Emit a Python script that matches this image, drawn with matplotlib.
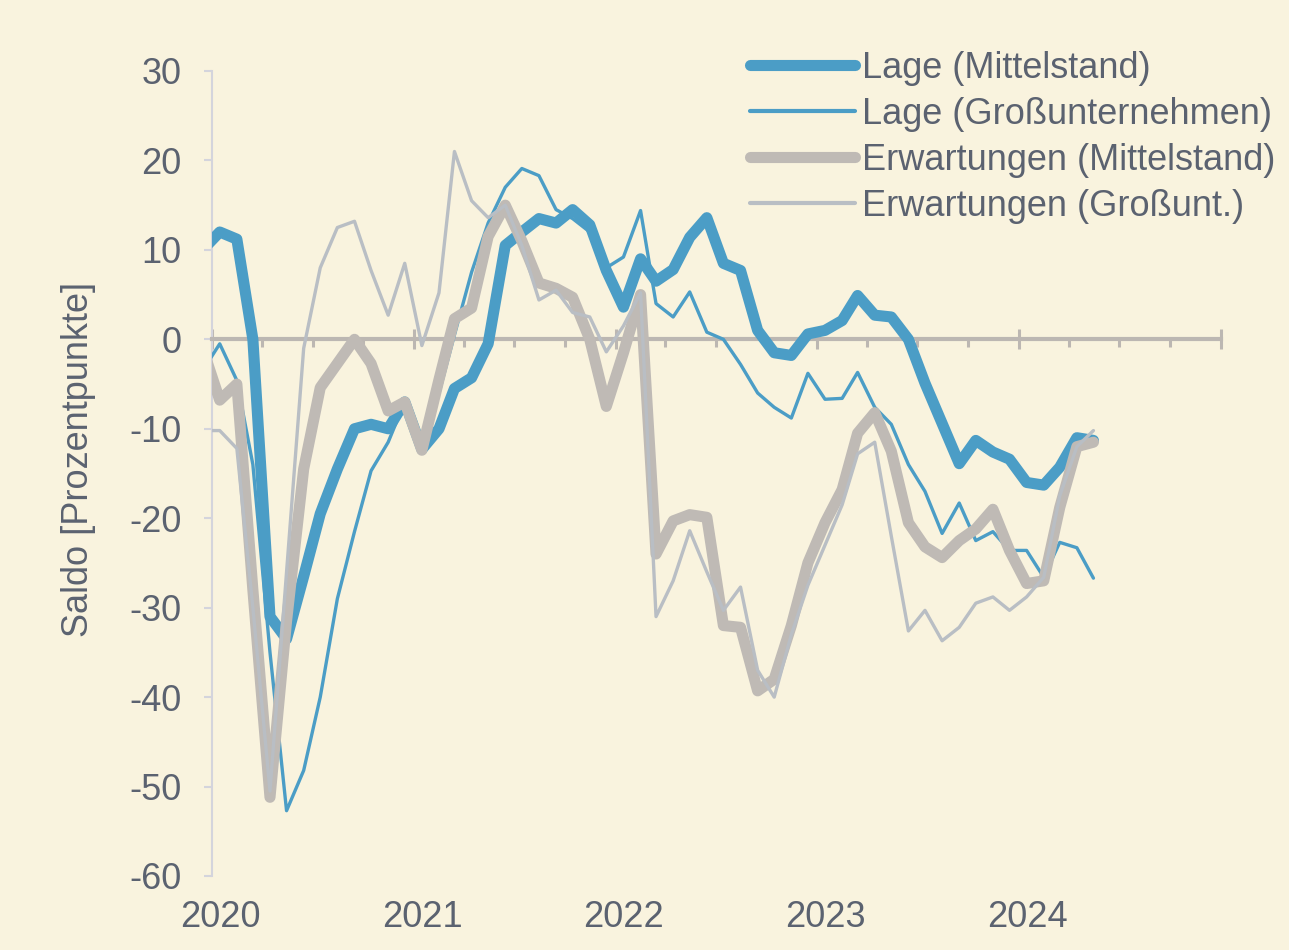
import matplotlib
matplotlib.use("Agg")
import matplotlib.pyplot as plt
import matplotlib.dates as mdates
import matplotlib.transforms as mtransforms
import pandas as pd
from datetime import datetime

# monthly values, Dec 2019 .. May 2024 (Dec 2019 is clipped by the axis)
months = pd.date_range("2019-12-01", "2024-05-01", freq="MS") + pd.Timedelta(days=14)

lage_mittelstand = [
    10, 12, 11.2, 0, -31, -33.5, -26.5, -19.5, -14.5, -10, -9.5, -10, -7,
    -12.3, -10, -5.5, -4.3, -0.5, 10.5, 12, 13.5, 13, 14.5, 12.8, 7.7,
    3.6, 9, 6.5, 7.8, 11.4, 13.6, 8.5, 7.7, 1, -1.5, -1.8, 0.6,
    1, 2.1, 4.9, 2.7, 2.5, 0, -4.9, -9.4, -13.9, -11.3, -12.6, -13.4,
    -16, -16.3, -14.3, -11, -11.3,
]
lage_gross = [
    -3.5, -0.5, -4.6, -14, -35, -52.7, -48.2, -40, -29, -21.5, -14.7, -11.5, -7,
    -12.5, -6, 0.5, 7.5, 13, 17, 19.1, 18.3, 14.5, 13.5, 12, 8,
    9.2, 14.4, 4, 2.5, 5.3, 0.8, 0, -2.8, -6, -7.6, -8.8, -3.8,
    -6.7, -6.6, -3.7, -7.6, -9.5, -14, -17, -21.7, -18.3, -22.5, -21.5, -23.6,
    -23.6, -26.6, -22.7, -23.3, -26.7,
]
erw_mittelstand = [
    -1, -6.8, -5, -28, -51.2, -31.5, -14.5, -5.4, -2.7, 0, -2.7, -8, -7,
    -12.4, -4.5, 2.3, 3.5, 11.5, 15, 11, 6.3, 5.7, 4.7, 0, -7.5,
    -1.5, 5, -24, -20.3, -19.6, -19.9, -32, -32.2, -39.3, -38, -32, -25,
    -20.5, -16.8, -10.5, -8.2, -12.5, -20.5, -23.2, -24.4, -22.5, -21.2, -19, -23.6,
    -27.3, -27, -18.8, -12, -11.5,
]
erw_gross = [
    -10.2, -10.2, -12.2, -30, -50.5, -26, -1, 8, 12.5, 13.2, 7.7, 2.7, 8.5,
    -0.7, 5.2, 21, 15.5, 13.6, 15, 10.5, 4.4, 5.5, 3, 2.5, -1.4,
    1.5, 5.2, -31, -27, -21.4, -26, -30.3, -27.7, -37, -40, -33, -27.5,
    -23, -18.5, -12.8, -11.5, -22, -32.6, -30.3, -33.7, -32.2, -29.5, -28.8, -30.3,
    -28.8, -26.6, -17.5, -12, -10.2,
]

years = [2020, 2021, 2022, 2023, 2024]

bg = "#f9f3de"
blue = "#4b9dc6"
gray_thick = "#bfbab5"
gray_thin = "#b9bec4"
text_col = "#5b6270"

plt.rcParams["font.family"] = ["Liberation Sans", "DejaVu Sans"]
plt.rcParams["font.size"] = 26
plt.rcParams["axes.unicode_minus"] = False

fig = plt.figure(figsize=(12.89, 9.5), dpi=100, facecolor=bg)
ax = fig.add_axes([212 / 1289, 74 / 950, 1009 / 1289, 805 / 950])
ax.set_facecolor(bg)

style = dict(solid_capstyle="round", solid_joinstyle="round")
ax.plot(months, lage_mittelstand, color=blue, lw=8, zorder=4,
        label="Lage (Mittelstand)", **style)
ax.plot(months, lage_gross, color=blue, lw=2.4, zorder=5,
        label="Lage (Großunternehmen)", **style)
ax.plot(months, erw_mittelstand, color=gray_thick, lw=8, zorder=6,
        label="Erwartungen (Mittelstand)", **style)
ax.plot(months, erw_gross, color=gray_thin, lw=2.4, zorder=7,
        label="Erwartungen (Großunt.)", **style)

ax.set_xlim(datetime(2020, 1, 1), datetime(2025, 1, 1))
ax.set_ylim(-60, 30)
ax.set_yticks(range(-60, 31, 10))

# x axis sits on the zero line
for s in ["top", "right"]:
    ax.spines[s].set_visible(False)
ax.spines["bottom"].set_position(("data", 0))
ax.spines["bottom"].set_color("#bcb7b2")
ax.spines["bottom"].set_linewidth(3)
ax.spines["bottom"].set_zorder(3)
ax.spines["left"].set_color("#d4d4dc")
ax.spines["left"].set_linewidth(1.5)

ax.xaxis.set_major_locator(mdates.YearLocator())
ax.xaxis.set_minor_locator(mdates.MonthLocator(bymonth=[4, 7, 10]))
ax.tick_params(axis="x", which="major", direction="inout", length=14,
               width=2.2, color="#bcb7b2", labelbottom=False)
ax.tick_params(axis="x", which="minor", direction="out", length=6,
               width=2.2, color="#bcb7b2")
ax.tick_params(axis="y", direction="out", length=6, width=1.5,
               color="#d4d4dc", labelcolor=text_col, pad=16)

# year labels at the bottom of the plot
trans = mtransforms.blended_transform_factory(ax.transData, ax.transAxes)
for yr in years:
    ax.text(mdates.date2num(datetime(yr, 1, 16)), -0.052, str(yr), transform=trans,
            ha="center", va="center", color=text_col)

ax.set_ylabel("Saldo [Prozentpunkte]", color=text_col)
ax.yaxis.set_label_coords(-0.115, 0.518)

leg = ax.legend(loc="upper left", bbox_to_anchor=(750 / 1289, 1 - 51 / 950),
                bbox_transform=fig.transFigure, frameon=False, borderpad=0,
                borderaxespad=0, handlelength=2.9, handletextpad=0.2,
                labelspacing=0.3, labelcolor=text_col)
for h, w in zip(leg.get_lines(), [8, 3, 8, 3]):
    h.set_linewidth(w)

fig.savefig("out.png", dpi=100, facecolor=bg)
